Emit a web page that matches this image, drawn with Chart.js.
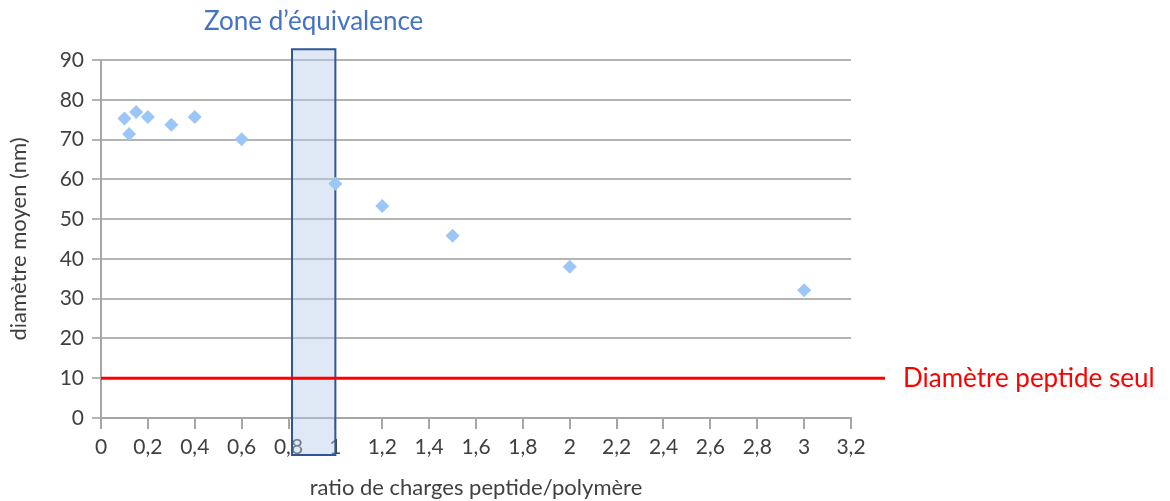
<!DOCTYPE html>
<html>
<head>
<meta charset="utf-8">
<script src="https://cdn.jsdelivr.net/npm/chart.js@4"></script>
<style>
  html, body { margin: 0; padding: 0; background: #fff; }
  #wrap { width: 1170px; height: 501px; }
</style>
</head>
<body>
<div id="wrap"><canvas id="diam"></canvas></div>
<script>
// mesures
const ratios = [0.1, 0.12, 0.15, 0.2, 0.3, 0.4, 0.6, 1.0, 1.2, 1.5, 2.0, 3.0];
const diametres = [75.3, 71.4, 76.9, 75.7, 73.7, 75.7, 70.1, 58.9, 53.3, 45.8, 38.0, 32.1];

// diametre du peptide seul
const peptideX = [0, 3.345];
const peptideY = [10, 10];

// zone d'equivalence (en unites des axes)
const zoneX = [0.815, 1.0];
const zoneY = [-9.3, 92.7];

const xTicksMax = 3.2;
const yTicksMax = 90;

const FONT = 'Lato, "Open Sans", sans-serif';

const zonePlugin = {
  id: 'zone',
  beforeDatasetsDraw(chart) {
    const ctx = chart.ctx, x = chart.scales.x, y = chart.scales.y;
    const x0 = x.getPixelForValue(zoneX[0]), x1 = x.getPixelForValue(zoneX[1]);
    const y0 = y.getPixelForValue(zoneY[1]), y1 = y.getPixelForValue(zoneY[0]);
    ctx.save();
    ctx.fillStyle = 'rgba(185, 203, 232, 0.45)';
    ctx.fillRect(x0, y0, x1 - x0, y1 - y0);
    ctx.strokeStyle = '#2f5597';
    ctx.lineWidth = 2;
    ctx.strokeRect(x0, y0, x1 - x0, y1 - y0);
    ctx.restore();
  },
  afterDraw(chart) {
    const ctx = chart.ctx, x = chart.scales.x, y = chart.scales.y;
    ctx.save();
    ctx.font = '26px ' + FONT;
    ctx.fillStyle = '#4472c4';
    ctx.textAlign = 'center';
    ctx.textBaseline = 'middle';
    ctx.fillText('Zone d\u2019\u00e9quivalence', (x.getPixelForValue(zoneX[0]) + x.getPixelForValue(zoneX[1])) / 2, 22);
    ctx.fillStyle = '#ff0000';
    ctx.textAlign = 'left';
    ctx.fillText('Diam\u00e8tre peptide seul', x.getPixelForValue(peptideX[1]) + 18, y.getPixelForValue(peptideY[1]));
    ctx.restore();
  }
};

new Chart('diam', {
  type: 'scatter',
  data: {
    datasets: [{
      label: 'diametre',
      data: ratios.map((r, i) => ({ x: r, y: diametres[i] })),
      pointStyle: 'rectRot',
      pointRadius: 7,
      pointHoverRadius: 7,
      backgroundColor: '#9cc6f8',
      borderColor: '#9cc6f8',
      borderWidth: 0
    }, {
      label: 'peptide',
      type: 'line',
      data: peptideX.map((v, i) => ({ x: v, y: peptideY[i] })),
      borderColor: '#ff0000',
      borderWidth: 3,
      pointRadius: 0,
      clip: false
    }]
  },
  options: {
    responsive: true,
    maintainAspectRatio: false,
    animation: false,
    layout: { padding: { left: 0, right: 319, top: 60, bottom: 0 } },
    plugins: {
      legend: { display: false },
      tooltip: { enabled: false }
    },
    scales: {
      x: {
        type: 'linear',
        min: 0,
        max: xTicksMax,
        afterFit(s) { s.height = 83; },
        border: { color: '#a6a6a6', width: 2 },
        grid: { drawOnChartArea: false, color: '#a6a6a6', lineWidth: 2, tickLength: 11 },
        ticks: {
          stepSize: 0.2,
          padding: 6,
          color: '#404040',
          font: { family: FONT, size: 21 },
          callback: v => (Math.round(v * 10) / 10).toString().replace('.', ',')
        },
        title: {
          display: true,
          text: 'ratio de charges peptide/polym\u00e8re',
          color: '#404040',
          font: { family: FONT, size: 22 },
          padding: { top: 0, bottom: 0 }
        }
      },
      y: {
        min: 0,
        max: yTicksMax,
        afterFit(s) { s.width = 101; },
        border: { color: '#a6a6a6', width: 2 },
        grid: { color: '#b4b4b4', lineWidth: 2, tickLength: 9 },
        ticks: {
          stepSize: 10,
          padding: 8,
          color: '#404040',
          font: { family: FONT, size: 21 }
        },
        title: {
          display: true,
          text: 'diam\u00e8tre moyen (nm)',
          color: '#404040',
          font: { family: FONT, size: 22 },
          padding: { top: 6, bottom: 0 }
        }
      }
    }
  },
  plugins: [zonePlugin]
});
</script>
</body>
</html>
